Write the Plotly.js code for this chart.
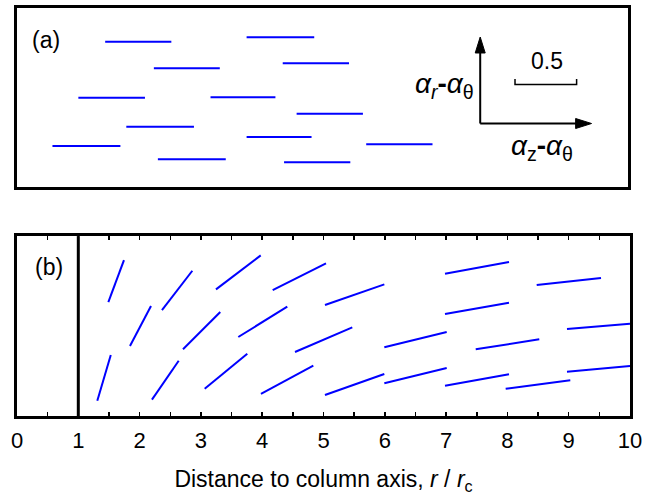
<!DOCTYPE html>
<html><head><meta charset="utf-8">
<script src="https://cdn.plot.ly/plotly-3.0.1.min.js"></script>
<style>html,body{margin:0;padding:0;background:#fff;}#chart{width:658px;height:504px;}</style>
</head><body><div id="chart"></div>
<script>
// ---- Panel (b): segment start/end points (x = r/r_c, y = arbitrary height) ----
const bStartX = [1.31, 1.49, 1.843, 2.202, 2.365, 2.708, 3.062, 3.246, 3.610, 3.980, 4.171, 5.024, 4.535, 5.024, 5.992, 5.992, 6.982, 6.982, 6.982, 7.483, 7.972, 8.478, 8.972, 8.972];
const bStartY = [0.255, 1.90, 1.167, 0.272, 1.767, 1.112, 0.455, 2.112, 1.317, 0.367, 2.10, 1.85, 1.067, 0.35, 1.145, 0.545, 2.372, 1.70, 0.505, 1.112, 0.455, 2.183, 1.45, 0.738];
const bEndX   = [1.53, 1.745, 2.186, 2.638, 2.860, 3.316, 3.757, 3.976, 4.409, 4.834, 5.041, 5.992, 5.470, 5.992, 7.010, 7.010, 8.026, 8.026, 8.026, 8.520, 9.026, 9.527, 10.0, 10.0];
const bEndY   = [1.017, 2.60, 1.833, 0.922, 2.422, 1.733, 1.038, 2.678, 1.822, 0.838, 2.545, 2.195, 1.478, 0.70, 1.40, 0.80, 2.567, 1.888, 0.695, 1.278, 0.595, 2.30, 1.538, 0.833];

// ---- Panel (a): horizontal segments ----
const aStartX = [1.447, 3.768, 2.246, 4.361, 1.007, 3.176, 4.589, 1.794, 3.768, 0.582, 5.731, 2.312, 4.383];
const aEndX   = [2.533, 4.878, 3.328, 5.449, 2.100, 4.241, 5.677, 2.904, 4.834, 1.697, 6.819, 3.426, 5.470];
const aY      = [2.435, 2.509, 1.989, 2.073, 1.497, 1.503, 1.228, 1.011, 0.838, 0.687, 0.716, 0.464, 0.414];

// ---- Axis ticks ----
const tickValues = [0, 1, 2, 3, 4, 5, 6, 7, 8, 9, 10];
const tickLabels = ['0', '1', '2', '3', '4', '5', '6', '7', '8', '9', '10'];
const minorStep = 0.5;
const columnEdge = 1;          // r / r_c = 1
const scaleBarLabel = '0.5';

function segments(x0, y0, x1, y1) {
  const xs = [], ys = [];
  for (let i = 0; i < x0.length; i++) {
    xs.push(x0[i], x1[i], null);
    ys.push(y0[i], y1[i], null);
  }
  return {xs, ys};
}

const sb = segments(bStartX, bStartY, bEndX, bEndY);
const sa = segments(aStartX, aY, aEndX, aY);

const blue = '#0000ff';
const traces = [
  {type: 'scatter', mode: 'lines', x: sb.xs, y: sb.ys, xaxis: 'x', yaxis: 'y',
   line: {color: blue, width: 2}, hoverinfo: 'skip', showlegend: false},
  {type: 'scatter', mode: 'lines', x: sa.xs, y: sa.ys, xaxis: 'x2', yaxis: 'y2',
   line: {color: blue, width: 2}, hoverinfo: 'skip', showlegend: false}
];

// legend glyph geometry in panel (a) data units
const ox = 7.602, oy = 1.064, vTip = 2.514, hTip = 9.429;
const ahL = 0.268, ahW = 0.082, ahLx = 0.261, ahWy = 0.084;
const sbX0 = 8.173, sbX1 = 9.184, sbY = 1.718, sbTick = 0.09;

const shapes = [
  {type: 'line', xref: 'x', yref: 'y domain', x0: columnEdge, x1: columnEdge, y0: 0, y1: 1,
   line: {color: 'black', width: 3}},
  {type: 'line', xref: 'x2', yref: 'y2', x0: ox, y0: oy, x1: ox, y1: vTip - ahL + 0.02, line: {color: 'black', width: 2}},
  {type: 'line', xref: 'x2', yref: 'y2', x0: ox, y0: oy, x1: hTip - ahLx + 0.02, y1: oy, line: {color: 'black', width: 2}},
  {type: 'path', xref: 'x2', yref: 'y2',
   path: `M${ox},${vTip} L${ox - ahW},${vTip - ahL} L${ox + ahW},${vTip - ahL} Z`,
   fillcolor: 'black', line: {color: 'black', width: 1}},
  {type: 'path', xref: 'x2', yref: 'y2',
   path: `M${hTip},${oy} L${hTip - ahLx},${oy + ahWy} L${hTip - ahLx},${oy - ahWy} Z`,
   fillcolor: 'black', line: {color: 'black', width: 1}},
  {type: 'path', xref: 'x2', yref: 'y2',
   path: `M${sbX0},${sbY + sbTick} L${sbX0},${sbY} L${sbX1},${sbY} L${sbX1},${sbY + sbTick}`,
   line: {color: 'black', width: 1.5}}
];

const fontFam = 'Liberation Sans, Arial, sans-serif';
const annotations = [
  {xref: 'x2', yref: 'y2', x: 0.473, y: 2.464, text: '(a)', showarrow: false, font: {size: 23, color: 'black', family: fontFam}},
  {xref: 'x', yref: 'y', x: 0.53, y: 2.49, text: '(b)', showarrow: false, font: {size: 23, color: 'black', family: fontFam}},
  {xref: 'x2', yref: 'y2', x: 8.695, y: 2.11, text: scaleBarLabel, showarrow: false, font: {size: 23, color: 'black', family: fontFam}},
  {xref: 'x2', yref: 'y2', x: 7.02, y: 1.70, showarrow: false,
   text: '<i>α</i><sub><i>r</i></sub><b>-</b><i>α</i><sub>θ</sub>', font: {size: 28, color: 'black', family: fontFam}},
  {xref: 'x2', yref: 'y2', x: 8.62, y: 0.66, showarrow: false,
   text: '<i>α</i><sub>z</sub><b>-</b><i>α</i><sub>θ</sub>', font: {size: 28, color: 'black', family: fontFam}}
];

const layout = {
  width: 658, height: 504,
  margin: {l: 17, r: 28, t: 8, b: 88},
  paper_bgcolor: 'white', plot_bgcolor: 'white',
  font: {family: fontFam, color: 'black'},
  showlegend: false,
  xaxis: {
    domain: [0, 1], anchor: 'y', range: [0, 10],
    tickmode: 'array', tickvals: tickValues, ticktext: tickLabels,
    ticks: 'inside', ticklen: 4, tickwidth: 1.5, tickcolor: 'black',
    minor: {dtick: minorStep, tick0: 0, ticks: 'inside', ticklen: 4, tickwidth: 1.5, tickcolor: 'black', showgrid: false},
    showline: true, linecolor: 'black', linewidth: 3, mirror: 'allticks',
    showgrid: false, zeroline: false,
    tickfont: {size: 22, color: 'black', family: fontFam},
    ticklabelstandoff: 3,
    title: {text: 'Distance to column axis, <i>r</i> / <i>r</i><sub>c</sub>', font: {size: 23, color: 'black', family: fontFam}, standoff: 19}
  },
  yaxis: {
    domain: [0, 0.441], anchor: 'x', range: [0, 3],
    showticklabels: false, ticks: '', showgrid: false, zeroline: false,
    showline: true, linecolor: 'black', linewidth: 3, mirror: true
  },
  xaxis2: {
    domain: [0, 0.997], anchor: 'y2', range: [0, 10.03],
    showticklabels: false, ticks: '', showgrid: false, zeroline: false,
    showline: true, linecolor: 'black', linewidth: 3, mirror: true
  },
  yaxis2: {
    domain: [0.5613, 1], anchor: 'x2', range: [0, 3],
    showticklabels: false, ticks: '', showgrid: false, zeroline: false,
    showline: true, linecolor: 'black', linewidth: 3, mirror: true
  },
  shapes: shapes,
  annotations: annotations
};

Plotly.newPlot('chart', traces, layout, {displayModeBar: false, staticPlot: true});
</script>
</body></html>
